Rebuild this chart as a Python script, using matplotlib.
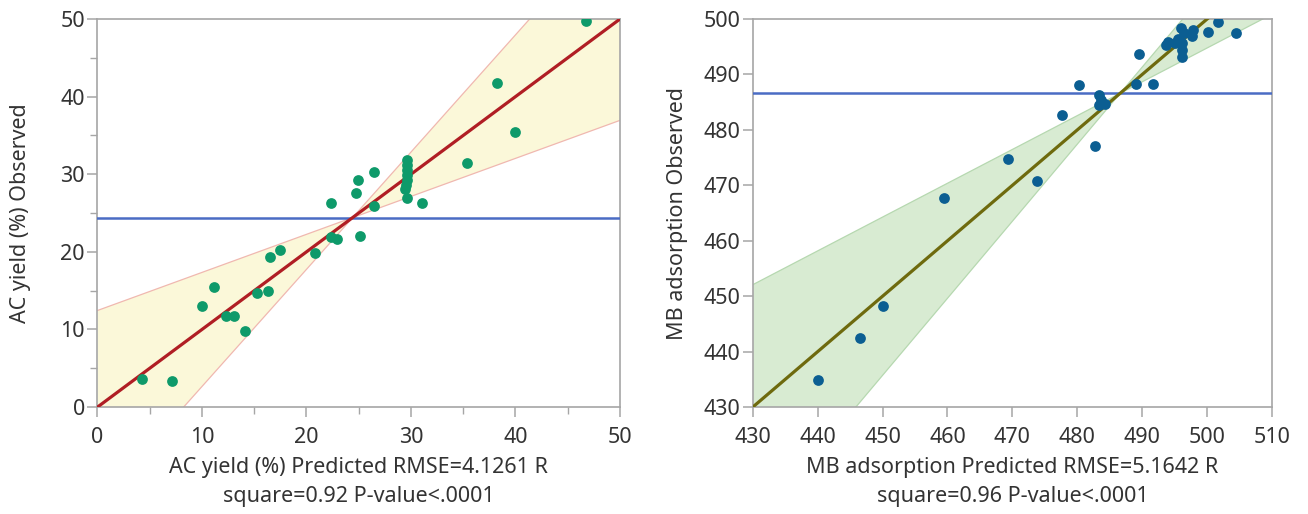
import numpy as np
import matplotlib
matplotlib.use("Agg")
import matplotlib.pyplot as plt
from matplotlib.ticker import MultipleLocator

plt.rcParams['font.family'] = ['Noto Sans', 'DejaVu Sans']

# ---------------- data: AC yield ----------------
ac_pred = [4.3, 7.1, 10.0, 11.2, 12.3, 13.1, 14.1, 15.3, 16.3, 16.5, 17.5, 20.8,
           22.3, 22.9, 25.1, 22.3, 24.7, 24.9, 26.5, 26.5,
           29.6, 29.6, 29.6, 29.6, 29.6, 29.5, 29.4, 29.6,
           31.1, 35.4, 38.2, 40.0, 46.7]
ac_obs = [3.6, 3.4, 13.0, 15.5, 11.8, 11.7, 9.8, 14.7, 14.9, 19.4, 20.2, 19.9,
          21.9, 21.7, 22.1, 26.3, 27.6, 29.3, 30.3, 25.9,
          31.8, 31.2, 30.5, 29.9, 29.2, 28.6, 28.1, 27.0,
          26.3, 31.4, 41.7, 35.4, 49.7]
ac_mean = 24.3
ac_fit = [0.0, 1.0]          # intercept, slope
ac_band = [24.4, 0.51]       # crossing x, half-slope of confidence curves
ac_xticks = [0, 10, 20, 30, 40, 50]
ac_xlabel = "AC yield (%) Predicted RMSE=4.1261 R\nsquare=0.92 P-value<.0001"
ac_ylabel = "AC yield (%) Observed"

# ---------------- data: MB adsorption ----------------
mb_pred = [440.0, 446.5, 450.0, 459.4, 469.3, 473.8, 477.7, 480.3, 482.8,
           483.3, 483.6, 483.4, 484.2, 489.0, 489.5, 491.7,
           493.6, 493.9, 495.0, 496.1, 496.0, 496.5, 497.6, 497.8, 496.2,
           496.1, 495.5, 500.1, 501.6, 504.4]
mb_obs = [434.8, 442.4, 448.2, 467.8, 474.7, 470.7, 482.7, 488.1, 477.1,
          486.3, 485.4, 484.5, 484.7, 488.2, 493.7, 488.2,
          495.4, 495.9, 495.7, 495.7, 498.3, 497.5, 496.9, 498.0, 494.4,
          493.1, 496.4, 497.7, 499.5, 497.5]
mb_mean = 486.6
mb_fit = [0.0, 1.0]
mb_band = [486.6, 0.39]
mb_xticks = [430, 440, 450, 460, 470, 480, 490, 500, 510]
mb_yticks = [430, 440, 450, 460, 470, 480, 490, 500]
mb_xlabel = "MB adsorption Predicted RMSE=5.1642 R\nsquare=0.96 P-value<.0001"
mb_ylabel = "MB adsorption Observed"

fig = plt.figure(figsize=(13.08, 5.14), dpi=100)
ax1 = fig.add_axes([0.0745, 0.208, 0.3995, 0.755])
ax2 = fig.add_axes([0.5755, 0.208, 0.397, 0.755])

def panel(ax, xp, yo, mean, fit, band, xlim, ylim, xticks, yticks, minor,
          xlabel, ylabel, pt_col, line_col, fill_col, edge_col, ylpad):
    xs = np.linspace(xlim[0], xlim[1], 300)
    yfit = fit[0] + fit[1] * xs
    half = band[1] * np.abs(xs - band[0])
    lo, hi = yfit - half, yfit + half
    ax.fill_between(xs, lo, hi, color=fill_col, lw=0, zorder=1)
    ax.plot(xs, lo, color=edge_col, lw=0.9, zorder=2)
    ax.plot(xs, hi, color=edge_col, lw=0.9, zorder=2)
    ax.axhline(mean, color='#4a6cc4', lw=1.8, zorder=3)
    ax.plot(xs, yfit, color=line_col, lw=2.3, zorder=4)
    ax.scatter(xp, yo, s=60, color=pt_col, zorder=5, lw=0)
    ax.set_xlim(*xlim)
    ax.set_ylim(*ylim)
    ax.set_xticks(xticks)
    ax.set_yticks(yticks)
    if minor:
        ax.xaxis.set_minor_locator(MultipleLocator(minor))
        ax.yaxis.set_minor_locator(MultipleLocator(minor))
    for s in ax.spines.values():
        s.set_color('#a6a6a6')
        s.set_linewidth(1.2)
    ax.tick_params(which='major', length=7, width=1.1, color='#a6a6a6',
                   labelsize=15.5, labelcolor='#333333')
    ax.tick_params(axis='x', which='major', pad=7)
    ax.tick_params(axis='y', which='major', pad=2)
    ax.tick_params(which='minor', length=5, width=1.0, color='#a6a6a6')
    ax.set_xlabel(xlabel, fontsize=15.5, color='#333333', labelpad=7, linespacing=1.5)
    ax.set_ylabel(ylabel, fontsize=15.5, color='#333333', labelpad=ylpad)

panel(ax1, ac_pred, ac_obs, ac_mean, ac_fit, ac_band, (0, 50), (0, 50),
      ac_xticks, ac_xticks, 5, ac_xlabel, ac_ylabel,
      '#0e9a6a', '#b01e24', '#fbf8d9', '#f0b8b0', 21)
panel(ax2, mb_pred, mb_obs, mb_mean, mb_fit, mb_band, (430, 510), (430, 500),
      mb_xticks, mb_yticks, None, mb_xlabel, mb_ylabel,
      '#0b5e92', '#6e6a0e', '#d8ebd2', '#b6d8b0', 11)

fig.savefig("out.png", dpi=100)
